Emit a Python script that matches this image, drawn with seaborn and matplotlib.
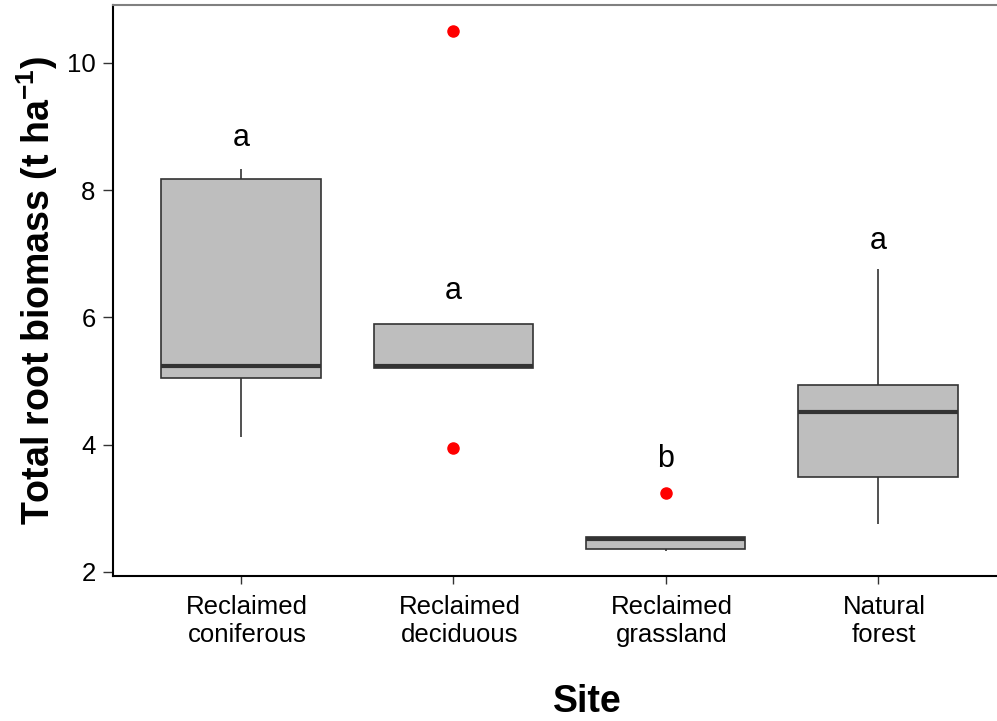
import matplotlib
matplotlib.use("Agg")
import matplotlib.pyplot as plt
import matplotlib.transforms as mtransforms
import numpy as np
import pandas as pd
import seaborn as sns

# Root biomass samples (t/ha) per site
sites = ["Reclaimed\nconiferous", "Reclaimed\ndeciduous", "Reclaimed\ngrassland", "Natural\nforest"]
coniferous = [4.12, 5.05, 5.24, 8.17, 8.33]
deciduous = [3.94, 5.21, 5.23, 5.90, 10.50]
grassland = [2.33, 2.36, 2.52, 2.55, 3.245]
natural = [2.75, 3.49, 4.52, 4.93, 6.76]

# Significance letters and the heights they sit at
letters = ["a", "a", "b", "a"]
letter_y = [8.69, 6.29, 3.65, 7.07]

y_ticks = [2, 4, 6, 8, 10]

df = pd.DataFrame({
    "Site": np.repeat(sites, [len(coniferous), len(deciduous), len(grassland), len(natural)]),
    "Biomass": coniferous + deciduous + grassland + natural,
})

sns.set_style("white")
plt.rcParams["font.family"] = ["Liberation Sans", "DejaVu Sans"]
plt.rcParams["mathtext.fontset"] = "custom"
plt.rcParams["mathtext.bf"] = "Liberation Sans:bold"
plt.rcParams["mathtext.rm"] = "Liberation Sans"

W, H = 997, 721
fig = plt.figure(figsize=(W / 100, H / 100), dpi=100)
left, right, top, bottom = 113, 997, 5, 576
ax = fig.add_axes([left / W, (H - bottom) / H, (right - left) / W, (bottom - top) / H])

sns.boxplot(
    data=df, x="Site", y="Biomass", order=sites, ax=ax,
    color="#BEBEBE", saturation=1, width=0.75,
    linecolor="#333333", linewidth=1.2,
    showcaps=False,
    medianprops=dict(color="#333333", linewidth=3.0),
    flierprops=dict(marker="o", markerfacecolor="red", markeredgecolor="red",
                    markersize=8),
)

for i, (lab, yv) in enumerate(zip(letters, letter_y)):
    ax.text(i, yv, lab, ha="center", va="baseline", fontsize=22, color="black")

ax.set_xlim(-0.603, 3.56)
ax.set_ylim(1.937, 10.906)
ax.set_yticks(y_ticks)
ax.set_yticklabels([str(t) for t in y_ticks])

ax.tick_params(axis="both", which="major", direction="out", width=1.0,
               color="#333333", labelsize=18.5, labelcolor="black",
               left=True, bottom=True)
ax.tick_params(axis="x", length=6, pad=8)
ax.tick_params(axis="y", length=7.5, pad=5)

# category labels sit a little right of their ticks
shift = mtransforms.ScaledTranslation(6 / 100, 0, fig.dpi_scale_trans)
for lbl in ax.get_xticklabels():
    lbl.set_transform(lbl.get_transform() + shift)

for side in ["left", "bottom"]:
    ax.spines[side].set_color("black")
    ax.spines[side].set_linewidth(1.5)
ax.spines["top"].set_color("#808080")
ax.spines["top"].set_linewidth(1.5)
ax.spines["right"].set_visible(False)

ax.set_xlabel("Site", fontsize=27, fontweight="bold", color="black")
ax.xaxis.set_label_coords((587 - left) / (right - left), -0.189)
ax.set_ylabel(r"Total root biomass (t ha$^{\mathbf{-1}}$)", fontsize=27,
              fontweight="bold", color="black", labelpad=5)

fig.savefig("out.png", dpi=100)
